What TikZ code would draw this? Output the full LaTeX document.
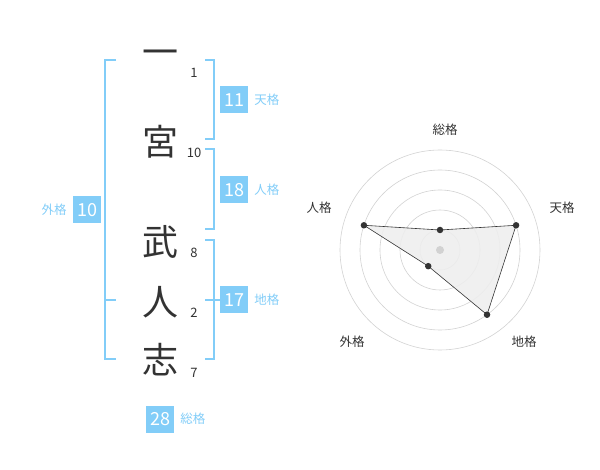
\documentclass[tikz,border=0pt]{standalone}
\usepackage{fontspec}
\setmainfont{Noto Sans CJK JP}
\usetikzlibrary{positioning}
\definecolor{kakublue}{HTML}{82CDF8}
\definecolor{inkgray}{HTML}{333333}
\definecolor{ringgray}{HTML}{D2D2D2}
\definecolor{areagray}{HTML}{EEEEEE}
\begin{document}
\begin{tikzpicture}[x=1pt, y=-1pt,
  kanji/.style={inner sep=0, text=inkgray, font=\fontsize{36}{36}\selectfont},
  stroke/.style={inner sep=0, text=inkgray, font=\fontsize{13}{13}\selectfont},
  kakubox/.style={fill=kakublue, text=white, minimum width=28pt, minimum height=27pt, inner sep=0, font=\fontsize{18}{18}\selectfont},
  kakulabel/.style={inner sep=0, text=kakublue, font=\fontsize{12.5}{12.5}\selectfont},
  bracket/.style={kakublue, line width=1.6pt},
  axislabel/.style={inner sep=0, text=inkgray, font=\fontsize{12.5}{12.5}\selectfont},
  ring/.style={ringgray, line width=0.6pt},
  dot/.style={circle, fill=inkgray, inner sep=0, minimum size=6.5pt}]
  \useasboundingbox (0,0) rectangle (600,470);

  \node [kanji] (Ichi) at (160,58) {一};
  \node [kanji] (Miya) at (160,142) {宮};
  \node [kanji] (Take) at (160,242) {武};
  \node [kanji] (Hito) at (160,302) {人};
  \node [kanji] (Shi) at (160,360) {志};
  \node [stroke] (IchiNum) at (194,73) {1};
  \node [stroke] (MiyaNum) at (194,153) {10};
  \node [stroke] (TakeNum) at (194,253) {8};
  \node [stroke] (HitoNum) at (194,313) {2};
  \node [stroke] (ShiNum) at (194,373) {7};

  \draw [bracket] (116,60) -- (105,60) -- (105,359) -- (116,359);
  \draw [bracket] (105,300) -- (116,300);
  \draw [bracket] (205,60) -- (214,60) -- (214,139) -- (205,139);
  \draw [bracket] (205,149) -- (214,149) -- (214,229) -- (205,229);
  \draw [bracket] (205,240) -- (214,240) -- (214,359) -- (205,359);
  \draw [bracket] (205,300) -- (220,300);

  \node [kakubox] (Ten) at (234,100) {11};
  \node [kakulabel, right=6pt of Ten] (TenLabel) {天格};
  \node [kakubox] (Jin) at (234,190) {18};
  \node [kakulabel, right=6pt of Jin] (JinLabel) {人格};
  \node [kakubox] (Chi) at (234,300) {17};
  \node [kakulabel, right=6pt of Chi] (ChiLabel) {地格};
  \node [kakubox] (Gai) at (87,210) {10};
  \node [kakulabel, left=6pt of Gai] (GaiLabel) {外格};
  \node [kakubox] (Sou) at (160,419) {28};
  \node [kakulabel, right=6pt of Sou] (SouLabel) {総格};

  \begin{scope}[shift={(440,250)}]
    \foreach \r in {20,40,...,100}
      \draw [ring] (0,0) circle (\r);
    \coordinate (SouPt) at (-90:20);
    \coordinate (TenPt) at (-18:80);
    \coordinate (ChiPt) at (54:80);
    \coordinate (GaiPt) at (126:20);
    \coordinate (JinPt) at (198:80);
    \fill [areagray, opacity=0.9] (SouPt) -- (TenPt) -- (ChiPt) -- (GaiPt) -- (JinPt) -- cycle;
    \draw [inkgray, line width=0.6pt] (SouPt) -- (TenPt) -- (ChiPt) -- (GaiPt) -- (JinPt) -- cycle;
    \node [circle, fill=ringgray, inner sep=0, minimum size=8pt] (Center) at (0,0) {};
    \foreach \p in {SouPt,TenPt,ChiPt,GaiPt,JinPt}
      \node [dot] at (\p) {};
    \node [axislabel] (SouAxis) at (5,-120) {総格};
    \node [axislabel] (TenAxis) at (122,-42) {天格};
    \node [axislabel] (ChiAxis) at (84,92) {地格};
    \node [axislabel] (GaiAxis) at (-88,92) {外格};
    \node [axislabel] (JinAxis) at (-121,-42) {人格};
  \end{scope}
\end{tikzpicture}
\end{document}
